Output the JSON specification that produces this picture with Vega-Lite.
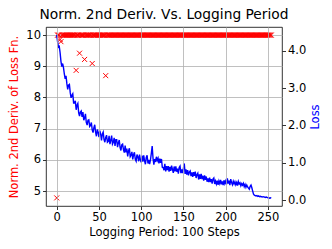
{
  "$schema": "https://vega.github.io/schema/vega-lite/v6.json",
  "width": 236,
  "height": 179,
  "autosize": "none",
  "padding": {"left": 46, "top": 27, "right": 50, "bottom": 43},
  "config": {
    "font": "DejaVu Sans",
    "view": {"stroke": "black", "strokeWidth": 0.8},
    "axis": {"domain": false, "tickColor": "black", "tickSize": 3.5, "tickWidth": 0.8, "labelColor": "black", "labelFontSize": 11.5, "labelPadding": 2, "titleFontSize": 11.5, "titleFontWeight": "normal", "gridColor": "#b0b0b0", "gridWidth": 0.8, "labelFont": "DejaVu Sans", "titleFont": "DejaVu Sans"}
  },
  "title": {"text": "Norm. 2nd Deriv. Vs. Logging Period", "fontSize": 13.8, "fontWeight": "normal", "font": "DejaVu Sans", "color": "black", "offset": 5, "anchor": "middle"},
  "data": {"values": [
{"i":0,"d":4.78,"l":4.43},{"i":1,"d":10,"l":4.25},{"i":2,"d":10,"l":4.10},{"i":3,"d":10,"l":4.12},{"i":4,"d":9.86,"l":3.95},{"i":5,"d":9.79,"l":3.72},{"i":6,"d":10,"l":3.58},{"i":7,"d":10,"l":3.66},{"i":8,"d":10,"l":3.55},{"i":9,"d":10,"l":3.38},{"i":10,"d":10,"l":3.25},
{"i":11,"d":10,"l":3.33},{"i":12,"d":10,"l":3.12},{"i":13,"d":10,"l":2.97},{"i":14,"d":10,"l":3.08},{"i":15,"d":10,"l":3.10},{"i":16,"d":10,"l":2.88},{"i":17,"d":10,"l":2.74},{"i":18,"d":10,"l":2.81},{"i":19,"d":10,"l":2.85},{"i":20,"d":10,"l":2.60},
{"i":21,"d":10,"l":2.60},{"i":22,"d":10,"l":2.66},{"i":23,"d":8.87,"l":2.42},{"i":24,"d":10,"l":2.54},{"i":25,"d":10,"l":2.59},{"i":26,"d":10,"l":2.34},{"i":27,"d":9.42,"l":2.25},{"i":28,"d":10,"l":2.36},{"i":29,"d":10,"l":2.39},{"i":30,"d":10,"l":2.23},
{"i":31,"d":10,"l":2.36},{"i":32,"d":10,"l":2.14},{"i":33,"d":9.22,"l":2.20},{"i":34,"d":10,"l":2.31},{"i":35,"d":10,"l":2.08},{"i":36,"d":10,"l":2.01},{"i":37,"d":10,"l":2.14},{"i":38,"d":10,"l":2.15},{"i":39,"d":10,"l":1.97},{"i":40,"d":10,"l":2.00},
{"i":41,"d":10,"l":2.08},{"i":42,"d":9.09,"l":1.88},{"i":43,"d":10,"l":1.81},{"i":44,"d":10,"l":1.94},{"i":45,"d":10,"l":2.02},{"i":46,"d":10,"l":1.82},{"i":47,"d":10,"l":1.71},{"i":48,"d":10,"l":1.89},{"i":49,"d":10,"l":1.82},{"i":50,"d":10,"l":1.69},
{"i":51,"d":10,"l":1.86},{"i":52,"d":10,"l":1.77},{"i":53,"d":10,"l":1.60},{"i":54,"d":10,"l":1.77},{"i":55,"d":10,"l":1.82},{"i":56,"d":10,"l":1.62},{"i":57,"d":10,"l":1.55},{"i":58,"d":8.70,"l":1.68},{"i":59,"d":10,"l":1.74},{"i":60,"d":10,"l":1.55},
{"i":61,"d":10,"l":1.57},{"i":62,"d":10,"l":1.72},{"i":63,"d":10,"l":1.50},{"i":64,"d":10,"l":1.60},{"i":65,"d":10,"l":1.73},{"i":66,"d":10,"l":1.50},{"i":67,"d":10,"l":1.55},{"i":68,"d":10,"l":1.67},{"i":69,"d":10,"l":1.45},{"i":70,"d":10,"l":1.62},
{"i":71,"d":10,"l":1.62},{"i":72,"d":10,"l":1.42},{"i":73,"d":10,"l":1.53},{"i":74,"d":10,"l":1.61},{"i":75,"d":10,"l":1.41},{"i":76,"d":10,"l":1.33},{"i":77,"d":10,"l":1.48},{"i":78,"d":10,"l":1.50},{"i":79,"d":10,"l":1.35},{"i":80,"d":10,"l":1.27},
{"i":81,"d":10,"l":1.46},{"i":82,"d":10,"l":1.28},{"i":83,"d":10,"l":1.38},{"i":84,"d":10,"l":1.17},{"i":85,"d":10,"l":1.32},{"i":86,"d":10,"l":1.39},{"i":87,"d":10,"l":1.16},{"i":88,"d":10,"l":1.20},{"i":89,"d":10,"l":1.29},{"i":90,"d":10,"l":1.09},
{"i":91,"d":10,"l":1.22},{"i":92,"d":10,"l":1.28},{"i":93,"d":10,"l":1.09},{"i":94,"d":10,"l":1.04},{"i":95,"d":10,"l":1.22},{"i":96,"d":10,"l":1.16},{"i":97,"d":10,"l":1.04},{"i":98,"d":10,"l":1.22},{"i":99,"d":10,"l":1.08},{"i":100,"d":10,"l":1.01},
{"i":101,"d":10,"l":1.19},{"i":102,"d":10,"l":1.03},{"i":103,"d":10,"l":1.20},{"i":104,"d":10,"l":1.05},{"i":105,"d":10,"l":0.96},{"i":106,"d":10,"l":1.14},{"i":107,"d":10,"l":1.20},{"i":108,"d":10,"l":0.98},{"i":109,"d":10,"l":1.08},{"i":110,"d":10,"l":0.96},
{"i":111,"d":10,"l":1.08},{"i":112,"d":10,"l":1.25},{"i":113,"d":10,"l":1.45},{"i":114,"d":10,"l":1.12},{"i":115,"d":10,"l":0.95},{"i":116,"d":10,"l":1.10},{"i":117,"d":10,"l":1.02},{"i":118,"d":10,"l":1.16},{"i":119,"d":10,"l":1.06},{"i":120,"d":10,"l":1.12},
{"i":121,"d":10,"l":0.98},{"i":122,"d":10,"l":1.11},{"i":123,"d":10,"l":1.00},{"i":124,"d":10,"l":1.10},{"i":125,"d":10,"l":0.88},{"i":126,"d":10,"l":0.87},{"i":127,"d":10,"l":0.80},{"i":128,"d":10,"l":0.97},{"i":129,"d":10,"l":0.77},{"i":130,"d":10,"l":0.91},
{"i":131,"d":10,"l":0.80},{"i":132,"d":10,"l":0.91},{"i":133,"d":10,"l":0.76},{"i":134,"d":10,"l":0.89},{"i":135,"d":10,"l":0.78},{"i":136,"d":10,"l":0.92},{"i":137,"d":10,"l":0.82},{"i":138,"d":10,"l":0.73},{"i":139,"d":10,"l":0.90},{"i":140,"d":10,"l":0.77},
{"i":141,"d":10,"l":0.90},{"i":142,"d":10,"l":0.76},{"i":143,"d":10,"l":0.84},{"i":144,"d":10,"l":0.71},{"i":145,"d":10,"l":0.87},{"i":146,"d":10,"l":0.91},{"i":147,"d":10,"l":0.72},{"i":148,"d":10,"l":0.82},{"i":149,"d":10,"l":0.72},{"i":150,"d":10,"l":0.85},
{"i":151,"d":10,"l":0.98},{"i":152,"d":10,"l":0.70},{"i":153,"d":10,"l":0.82},{"i":154,"d":10,"l":0.68},{"i":155,"d":10,"l":0.80},{"i":156,"d":10,"l":0.66},{"i":157,"d":10,"l":0.75},{"i":158,"d":10,"l":0.78},{"i":159,"d":10,"l":0.64},{"i":160,"d":10,"l":0.74},
{"i":161,"d":10,"l":0.62},{"i":162,"d":10,"l":0.75},{"i":163,"d":10,"l":0.65},{"i":164,"d":10,"l":0.76},{"i":165,"d":10,"l":0.59},{"i":166,"d":10,"l":0.68},{"i":167,"d":10,"l":0.72},{"i":168,"d":10,"l":0.55},{"i":169,"d":10,"l":0.69},{"i":170,"d":10,"l":0.57},
{"i":171,"d":10,"l":0.70},{"i":172,"d":10,"l":0.56},{"i":173,"d":10,"l":0.65},{"i":174,"d":10,"l":0.52},{"i":175,"d":10,"l":0.66},{"i":176,"d":10,"l":0.54},{"i":177,"d":10,"l":0.63},{"i":178,"d":10,"l":0.49},{"i":179,"d":10,"l":0.58},{"i":180,"d":10,"l":0.48},
{"i":181,"d":10,"l":0.60},{"i":182,"d":10,"l":0.48},{"i":183,"d":10,"l":0.56},{"i":184,"d":10,"l":0.44},{"i":185,"d":10,"l":0.56},{"i":186,"d":10,"l":0.59},{"i":187,"d":10,"l":0.43},{"i":188,"d":10,"l":0.51},{"i":189,"d":10,"l":0.43},{"i":190,"d":10,"l":0.52},
{"i":191,"d":10,"l":0.41},{"i":192,"d":10,"l":0.51},{"i":193,"d":10,"l":0.44},{"i":194,"d":10,"l":0.54},{"i":195,"d":10,"l":0.42},{"i":196,"d":10,"l":0.50},{"i":197,"d":10,"l":0.40},{"i":198,"d":10,"l":0.53},{"i":199,"d":10,"l":0.44},{"i":200,"d":10,"l":0.51},
{"i":201,"d":10,"l":0.42},{"i":202,"d":10,"l":0.58},{"i":203,"d":10,"l":0.44},{"i":204,"d":10,"l":0.52},{"i":205,"d":10,"l":0.40},{"i":206,"d":10,"l":0.56},{"i":207,"d":10,"l":0.47},{"i":208,"d":10,"l":0.41},{"i":209,"d":10,"l":0.50},{"i":210,"d":10,"l":0.43},
{"i":211,"d":10,"l":0.49},{"i":212,"d":10,"l":0.41},{"i":213,"d":10,"l":0.47},{"i":214,"d":10,"l":0.39},{"i":215,"d":10,"l":0.50},{"i":216,"d":10,"l":0.43},{"i":217,"d":10,"l":0.46},{"i":218,"d":10,"l":0.38},{"i":219,"d":10,"l":0.44},{"i":220,"d":10,"l":0.40},
{"i":221,"d":10,"l":0.45},{"i":222,"d":10,"l":0.36},{"i":223,"d":10,"l":0.42},{"i":224,"d":10,"l":0.34},{"i":225,"d":10,"l":0.40},{"i":226,"d":10,"l":0.35},{"i":227,"d":10,"l":0.32},{"i":228,"d":10,"l":0.29},{"i":229,"d":10,"l":0.37},{"i":230,"d":10,"l":0.40},
{"i":231,"d":10,"l":0.33},{"i":232,"d":10,"l":0.24},{"i":233,"d":10,"l":0.16},{"i":234,"d":10,"l":0.13},{"i":235,"d":10,"l":0.12},{"i":236,"d":10,"l":0.11},{"i":237,"d":10,"l":0.12},{"i":238,"d":10,"l":0.10},{"i":239,"d":10,"l":0.11},{"i":240,"d":10,"l":0.09},
{"i":241,"d":10,"l":0.10},{"i":242,"d":10,"l":0.09},{"i":243,"d":10,"l":0.09},{"i":244,"d":10,"l":0.08},{"i":245,"d":10,"l":0.09},{"i":246,"d":10,"l":0.08},{"i":247,"d":10,"l":0.07},{"i":248,"d":10,"l":0.08},{"i":249,"d":10,"l":0.07},{"i":250,"d":10,"l":0.06},
{"i":251,"d":10,"l":0.06},{"i":252,"d":10,"l":0.05},{"i":253,"d":10,"l":0.06},{"i":254,"d":10,"l":0.05}
  ]},
  "layer": [
    {
      "mark": {"type": "point", "shape": "M-1,-1L1,1M-1,1L1,-1", "filled": false, "stroke": "#ff0000", "strokeWidth": 1, "size": 25, "opacity": 1, "clip": true},
      "encoding": {
        "x": {"field": "i", "type": "quantitative", "scale": {"domain": [-12.7, 266.7], "nice": false, "zero": false},
          "axis": {"values": [0, 50, 100, 150, 200, 250], "grid": true, "zindex": 1, "title": "Logging Period: 100 Steps", "titlePadding": 3}},
        "y": {"field": "d", "type": "quantitative", "scale": {"domain": [4.52, 10.26], "nice": false, "zero": false},
          "axis": {"values": [5, 6, 7, 8, 9, 10], "grid": true, "title": "Norm. 2nd Deriv. of Loss Fn.", "titleColor": "#ff0000", "titlePadding": 6}}
      }
    },
    {
      "mark": {"type": "line", "color": "#0000ff", "strokeWidth": 1.4, "clip": true},
      "encoding": {
        "x": {"field": "i", "type": "quantitative"},
        "y": {"field": "l", "type": "quantitative", "scale": {"domain": [-0.16, 4.64], "nice": false, "zero": false},
          "axis": {"orient": "right", "values": [0, 1, 2, 3, 4], "format": ".1f", "grid": false, "title": "Loss", "titleColor": "#0000ff", "titleAngle": -90, "titleBaseline": "top", "titlePadding": 4}}
      }
    }
  ],
  "resolve": {"scale": {"y": "independent"}}
}
